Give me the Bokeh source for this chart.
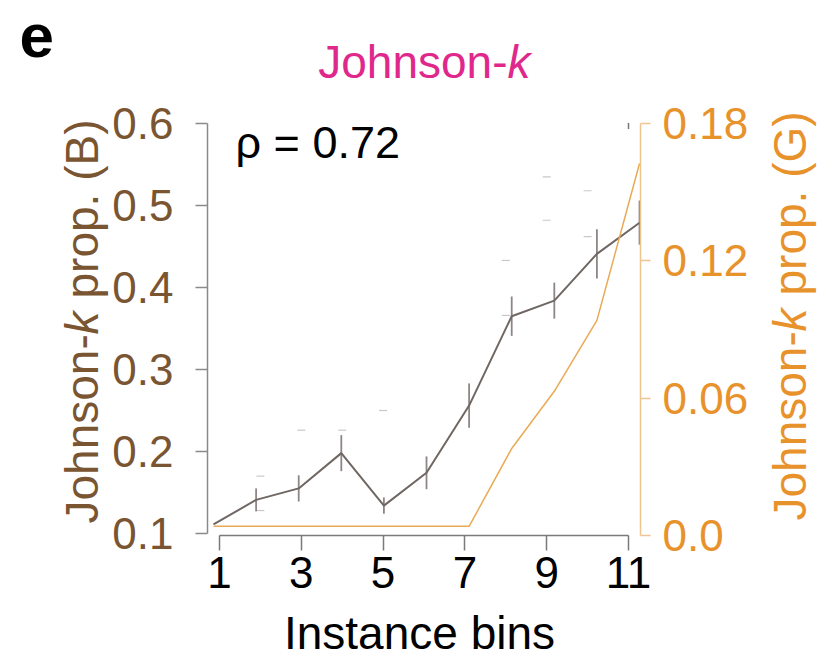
import math
from bokeh.plotting import figure
from bokeh.models import Range1d, LinearAxis, Label, FixedTicker
from bokeh.embed import file_html
from bokeh.resources import INLINE

# ---- data ----
bins = [1, 2, 3, 4, 5, 6, 7, 8, 9, 10, 11]
b_prop = [0.111, 0.141, 0.155, 0.198, 0.134, 0.174, 0.256, 0.365, 0.384, 0.441, 0.479]
b_err = [0.0, 0.014, 0.016, 0.022, 0.010, 0.020, 0.027, 0.024, 0.022, 0.030, 0.027]
g_prop = [0.004, 0.004, 0.004, 0.004, 0.004, 0.004, 0.004, 0.038, 0.063, 0.094, 0.1625]
null_x = [2, 2, 3, 4, 5, 8, 8, 9, 9, 10, 10]
null_y = [0.170, 0.128, 0.226, 0.226, 0.250, 0.433, 0.366, 0.535, 0.482, 0.518, 0.462]
top_x = [11]
top_y = [0.597]
x_ticks = [1, 3, 5, 7, 9, 11]
b_ticks = [0.1, 0.2, 0.3, 0.4, 0.5, 0.6]
g_ticks = [0.0, 0.06, 0.12, 0.18]
g_tick_labels = ["0.0", "0.06", "0.12", "0.18"]

FONT = "Liberation Sans"
BROWN = "#7a5532"
ORANGE = "#e8922c"
LINE_GREY = "#6f6763"
W, H = 838, 661

# The frame fills the whole canvas; the axes are pinned with fixed_location,
# so texts outside the data area are not clipped.
p = figure(width=W, height=H,
           x_range=Range1d(-4.0, 15.671), y_range=Range1d(-0.0561, 0.75),
           output_backend="svg", toolbar_location=None, x_axis_location=None,
           min_border=0, min_border_left=0, min_border_right=0,
           min_border_top=0, min_border_bottom=0)
p.extra_x_ranges = {"ax": Range1d(-4.3545, 16.1345)}
p.extra_y_ranges = {"g": Range1d(-0.05505, 0.23374)}
p.grid.visible = False
p.outline_line_color = None
p.background_fill_color = "white"
p.border_fill_color = "white"

# left axis
la = p.yaxis[0]
la.fixed_location = 0.8592
la.ticker = FixedTicker(ticks=b_ticks)
la.bounds = (0.1, 0.6)
la.axis_line_color = "#8a8a8a"
la.axis_line_width = 1.5
la.major_tick_line_color = "#8a8a8a"
la.major_tick_line_width = 1.5
la.major_tick_in = 0
la.major_tick_out = 12
la.minor_tick_line_color = None
la.major_label_standoff = 22
la.major_label_text_font = FONT
la.major_label_text_font_size = "44px"
la.major_label_text_color = BROWN

# right axis
ra = LinearAxis(y_range_name="g", ticker=FixedTicker(ticks=g_ticks), bounds=(0.0, 0.18),
                fixed_location=11.0235)
ra.major_label_overrides = {t: s for t, s in zip(g_ticks, g_tick_labels)}
ra.axis_line_color = "#f0c48e"
ra.axis_line_width = 1.5
ra.major_tick_line_color = "#f0c48e"
ra.major_tick_line_width = 1.5
ra.major_tick_in = 0
ra.major_tick_out = 10
ra.minor_tick_line_color = None
ra.major_label_standoff = 12
ra.major_label_text_font = FONT
ra.major_label_text_font_size = "44px"
ra.major_label_text_color = ORANGE
p.add_layout(ra, "right")

# bottom axis
xa = LinearAxis(x_range_name="ax", ticker=FixedTicker(ticks=x_ticks), bounds=(1, 11),
                fixed_location=0.09756)
xa.axis_line_color = "#7a7a7a"
xa.axis_line_width = 1.5
xa.major_tick_line_color = "#7a7a7a"
xa.major_tick_line_width = 1.5
xa.major_tick_in = 0
xa.major_tick_out = 15
xa.minor_tick_line_color = None
xa.major_label_standoff = 7
xa.major_label_text_font = FONT
xa.major_label_text_font_size = "44px"
xa.major_label_text_color = "black"
p.add_layout(xa, "below")

# glyphs
p.dash(null_x, null_y, x_range_name="ax", size=8, angle=0, line_color="#c8c8c8", line_width=1.2)
p.dash(top_x, top_y, x_range_name="ax", size=6, angle=math.pi / 2, line_color="#777777", line_width=1.5)
lo = [v - e for v, e in zip(b_prop, b_err)]
hi = [v + e for v, e in zip(b_prop, b_err)]
p.segment(x0=bins, y0=lo, x1=bins, y1=hi, line_color="#8e8684", line_width=1.8)
p.line(bins, b_prop, line_color=LINE_GREY, line_width=2)
p.line(bins, g_prop, y_range_name="g", line_color="#e9aa55", line_width=1.5)

# texts, placed in canvas pixels (x from left, y from top of the middle line)
def lab(cx, cy, text, size=46, color="black", align="left", style="normal", angle=0.0):
    p.add_layout(Label(x=cx, y=H - cy, x_units="screen", y_units="screen", text=text,
                       text_font=FONT, text_font_size=f"{size}px", text_color=color,
                       text_align=align, text_baseline="middle",
                       text_font_style=style, angle=angle))

def mid(baseline, size):
    return baseline - 0.3465 * size

lab(19, mid(57, 62), "e", size=62, style="bold")
lab(507, mid(77, 46), "Johnson-", color="#e0288c", align="right")
lab(507, mid(77, 46), "k", color="#e0288c", style="italic")
lab(235, mid(158, 45), "ρ = 0.72", size=45)
lab(419, mid(648, 46), "Instance bins", align="center")

A = math.pi / 2
# left y label (reads bottom to top); x is the middle line
lx = mid(97, 46)
lab(lx, 523, "Johnson-", color=BROWN, angle=A)
lab(lx, 334, "k", color=BROWN, style="italic", angle=A)
lab(lx, 298, "prop. (B)", color=BROWN, angle=A)
# right y label
rx = mid(805, 46)
lab(rx, 520, "Johnson-", color=ORANGE, angle=A)
lab(rx, 331, "k", color=ORANGE, style="italic", angle=A)
lab(rx, 295, "prop. (G)", color=ORANGE, angle=A)

open("out.html", "w").write(file_html(p, INLINE))
